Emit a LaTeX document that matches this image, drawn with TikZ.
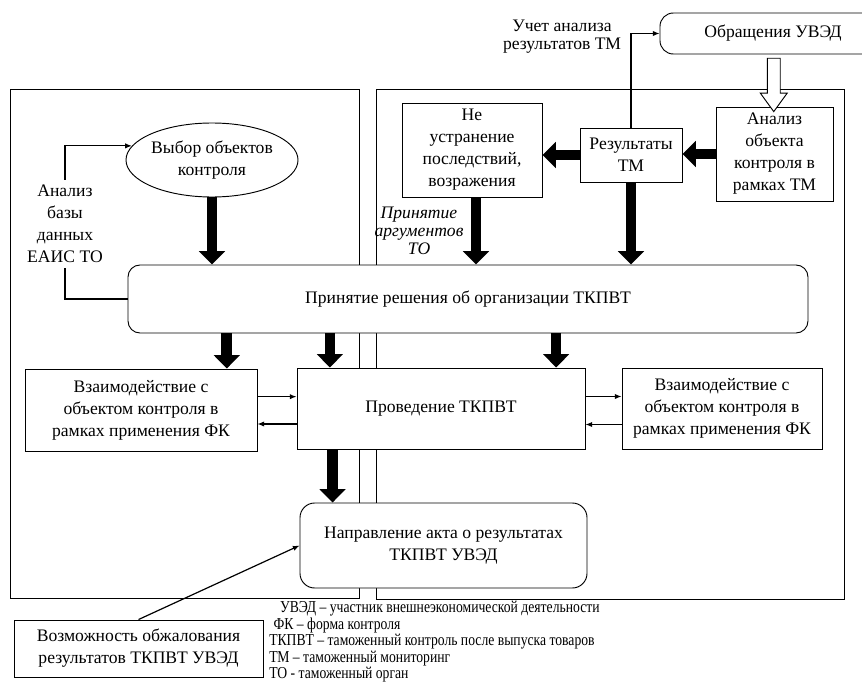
\documentclass[tikz,border=0pt]{standalone}
\usepackage{fontspec}
\setmainfont{Liberation Serif}
\usetikzlibrary{shapes.geometric,shapes.arrows,arrows.meta,calc}

\tikzset{
  box/.style={draw, fill=white, line width=0.7pt, align=center, inner sep=2pt},
  rbox/.style={box, rounded corners=9pt},
  bigarrow/.style={line width=8pt, -{Triangle[width=19pt,length=10pt]}},
  thinarrow/.style={line width=0.9pt, -{Latex[length=5pt,width=4pt]}},
  plain/.style={line width=0.9pt},
  panel/.style={line width=0.7pt},
  hollow/.style={draw, fill=white, line width=0.7pt, single arrow, rotate=-90,
    inner sep=0pt, inner ysep=4.5pt, minimum height=40pt,
    single arrow head extend=5.25pt, single arrow tip angle=72},
  note/.style={font=\fontsize{13.2}{13.5}\selectfont\itshape, align=center, inner sep=0pt},
  abbr/.style={inner sep=0pt}
}

\begin{document}
\begin{tikzpicture}[x=0.75pt,y=-0.75pt,
  every node/.append style={font=\fontsize{13.2}{16.5}\selectfont}]
  \clip (0,0) rectangle (862,681);

  % two panels
  \draw[panel] (10,89) rectangle (359,598);
  \draw[panel] (376,89) rectangle (844,599);

  % upper part
  \node[box, ellipse, inner sep=0pt, minimum width=109.5pt, minimum height=55.5pt] (choice) at (212,160) {Выбор объектов\\контроля};
  \node[align=center, inner sep=4pt] (dbtext) at (65,224) {Анализ\\базы\\данных\\ЕАИС ТО};
  \node[box, rounded corners=10pt, minimum width=169.5pt, minimum height=30.75pt] (appeal) at (773,33.5) {Обращения УВЭД};
  \node[align=center, inner sep=0pt, font=\fontsize{13.2}{13.5}\selectfont] (usetext) at (562,37) {Учет анализа\\результатов ТМ};
  \node[box, minimum width=105pt, minimum height=70.5pt] (noelim) at (472,150) {Не\\устранение\\последствий,\\возражения};
  \node[box, minimum width=76.5pt, minimum height=40.5pt] (results) at (631,155) {Результаты\\ТМ};
  \node[box, minimum width=87.75pt, minimum height=70.5pt] (tmanalysis) at (774.5,154) {Анализ\\объекта\\контроля в\\рамках ТМ};
  \node[hollow] (inflow) at ($(appeal.south)!0.5!(tmanalysis.north)$) {};
  \node[note] (argtext) at (419,231) {Принятие\\аргументов\\ТО};

  % decision
  \node[rbox, minimum width=510pt, minimum height=51pt] (decision) at (468,299) {Принятие решения об организации ТКПВТ};

  % control
  \node[box, minimum width=174pt, minimum height=61.5pt] (leftfk) at (141,410) {Взаимодействие с\\объектом контроля в\\рамках применения ФК};
  \node[box, minimum width=216pt, minimum height=60.75pt] (conduct) at (441,408.5) {Проведение ТКПВТ};
  \node[box, minimum width=150pt, minimum height=60.75pt] (rightfk) at (722,408.5) {Взаимодействие с\\объектом контроля в\\рамках применения ФК};
  \node[box, rounded corners=11pt, minimum width=215.25pt, minimum height=63.75pt] (act) at (443.5,545.5) {Направление акта о результатах\\ТКПВТ УВЭД};
  \node[box, minimum width=186.75pt, minimum height=42.75pt] (complain) at (138.5,648.5) {Возможность обжалования\\результатов ТКПВТ УВЭД};
  \node[abbr, anchor=north west] (legend) at (269,601) {\scalebox{0.82}[1]{\parbox[t]{330pt}{\fontsize{12.5}{12.4}\selectfont\raggedright
    \hspace{10pt}УВЭД – участник внешнеэкономической деятельности\\
    \hspace{4pt}ФК – форма контроля\\
    ТКПВТ – таможенный контроль после выпуска товаров\\
    ТМ – таможенный мониторинг\\
    ТО - таможенный орган}}};

  % connectors
  \draw[thinarrow] (dbtext.north) |- (choice.170);
  \draw[plain] (dbtext.south) |- (decision.west);
  \draw[thinarrow] (results.north) |- (appeal.west);
  \draw[bigarrow] (results.west) -- (results.west -| noelim.east);
  \draw[bigarrow] (tmanalysis.west) -- (tmanalysis.west -| results.east);
  \draw[bigarrow] (choice.south) -- (choice.south |- decision.north);
  \draw[bigarrow] ([xshift=3pt]noelim.south) -- ([xshift=3pt]noelim.south |- decision.north);
  \draw[bigarrow] (results.south) -- (results.south |- decision.north);
  \draw[bigarrow] ([xshift=-23pt]leftfk.north east |- decision.south) -- ([xshift=-23pt]leftfk.north east);
  \draw[bigarrow] ([xshift=25pt]conduct.north west |- decision.south) -- ([xshift=25pt]conduct.north west);
  \draw[bigarrow] ([xshift=-22pt]conduct.north east |- decision.south) -- ([xshift=-22pt]conduct.north east);
  \draw[bigarrow] ([xshift=27pt]conduct.south west) -- ([xshift=27pt]conduct.south west |- act.north);
  \draw[thinarrow] ([yshift=10pt]leftfk.east) -- ([yshift=10pt]leftfk.east -| conduct.west);
  \draw[thinarrow] ([yshift=-10.5pt]leftfk.east -| conduct.west) -- ([yshift=-10.5pt]leftfk.east);
  \draw[thinarrow] ([yshift=9pt]conduct.east) -- ([yshift=9pt]conduct.east -| rightfk.west);
  \draw[thinarrow] ([yshift=-12pt]rightfk.west) -- ([yshift=-12pt]rightfk.west -| conduct.east);
  \draw[thinarrow] (complain.north) -- (act.west);
\end{tikzpicture}
\end{document}
